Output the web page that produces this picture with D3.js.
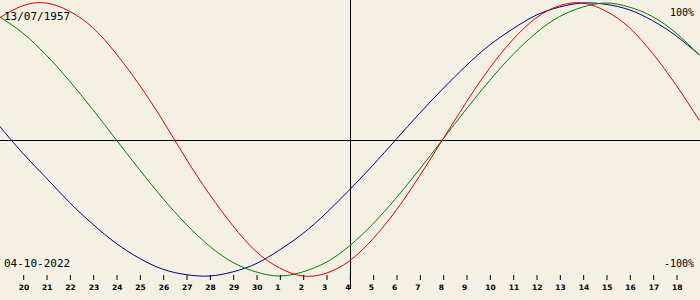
<!DOCTYPE html>
<html>
<head>
<meta charset="utf-8">
<script src="https://cdn.jsdelivr.net/npm/d3@7"></script>
<style>
    body { margin: 0; background: #f4f0e4; }
    svg { display: block; }
    .lbl { font-family: "DejaVu Sans Mono", monospace; fill: #000; }
    .day text { font-family: "DejaVu Sans", sans-serif; font-weight: bold; font-size: 7.5px; }
</style>
</head>
<body>
<svg id="chart" width="700" height="300"></svg>
<script>
"use strict";

// day of month, 19 Sep .. 19 Oct 2022 (today = 4 Oct)
var days = ["19", "20", "21", "22", "23", "24", "25", "26", "27", "28", "29", "30",
    "1", "2", "3", "4", "5", "6", "7", "8", "9", "10", "11", "12", "13", "14", "15",
    "16", "17", "18", "19"];
var todayIndex = 15;

var physical = [0.89, 0.98, 1.00, 0.94, 0.82, 0.63, 0.40, 0.14, -0.14, -0.40, -0.63,
    -0.82, -0.94, -1.00, -0.98, -0.89, -0.73, -0.52, -0.27, 0, 0.27, 0.52, 0.73,
    0.89, 0.98, 1.00, 0.94, 0.82, 0.63, 0.40, 0.14];
var emotional = [0.90, 0.78, 0.62, 0.43, 0.22, 0, -0.22, -0.43, -0.62, -0.78, -0.90,
    -0.97, -1.00, -0.97, -0.90, -0.78, -0.62, -0.43, -0.22, 0, 0.22, 0.43, 0.62,
    0.78, 0.90, 0.97, 1.00, 0.97, 0.90, 0.78, 0.62];
var intellectual = [0.10, -0.10, -0.28, -0.46, -0.62, -0.76, -0.87, -0.95, -0.99,
    -1.00, -0.97, -0.91, -0.81, -0.69, -0.54, -0.37, -0.19, 0, 0.19, 0.37, 0.54,
    0.69, 0.81, 0.91, 0.97, 1.00, 0.99, 0.95, 0.87, 0.76, 0.62];

var birthLabel = "13/07/1957",
    todayLabel = "04-10-2022",
    topLabel = "100%",
    bottomLabel = "-100%";

var w = 700,
    svg = d3.select("#chart");

var x = d3.scaleLinear().domain([1, 29]).range([22.7, 676]);
var y = d3.scaleLinear().domain([-1, 1]).range([276, 3]);

var line = d3.line()
    .x(function (d, i) { return x(i); })
    .y(function (d) { return y(d); })
    .curve(d3.curveNatural);

// centre line and today's line
svg.append("line")
    .attr("x1", 0).attr("x2", w)
    .attr("y1", Math.round(y(0)) + 0.5).attr("y2", Math.round(y(0)) + 0.5)
    .attr("stroke", "#000");
svg.append("line")
    .attr("x1", Math.round(x(todayIndex)) + 1.5).attr("x2", Math.round(x(todayIndex)) + 1.5)
    .attr("y1", 0).attr("y2", 289)
    .attr("stroke", "#000");

[[intellectual, "#000090"], [emotional, "#008000"], [physical, "#e00000"]]
    .forEach(function (s) {
        svg.append("path")
            .attr("d", line(s[0]))
            .attr("fill", "none")
            .attr("stroke", s[1])
            .attr("stroke-width", 1);
    });

// day ticks
var axis = d3.axisBottom(x)
    .tickValues(d3.range(1, days.length - 1))
    .tickFormat(function (i) { return days[i]; })
    .tickSize(5)
    .tickPadding(5);

var g = svg.append("g")
    .attr("class", "day")
    .attr("transform", "translate(0,275)")
    .call(axis);
g.select(".domain").remove();
g.selectAll(".tick line").attr("stroke", "#000")
    .attr("transform", "translate(0.5,0)");
g.selectAll(".tick text")
    .attr("fill", "#000")
    .attr("text-anchor", "start")
    .attr("x", -4.5);

svg.append("text").attr("class", "lbl")
    .attr("x", 4).attr("y", 20)
    .style("font-size", "11px")
    .text(birthLabel);
svg.append("text").attr("class", "lbl")
    .attr("x", 4).attr("y", 267)
    .style("font-size", "11px")
    .text(todayLabel);
svg.append("text").attr("class", "lbl")
    .attr("x", 694).attr("y", 16)
    .attr("text-anchor", "end")
    .style("font-size", "10px")
    .text(topLabel);
svg.append("text").attr("class", "lbl")
    .attr("x", 694).attr("y", 267)
    .attr("text-anchor", "end")
    .style("font-size", "10px")
    .text(bottomLabel);
</script>
</body>
</html>
